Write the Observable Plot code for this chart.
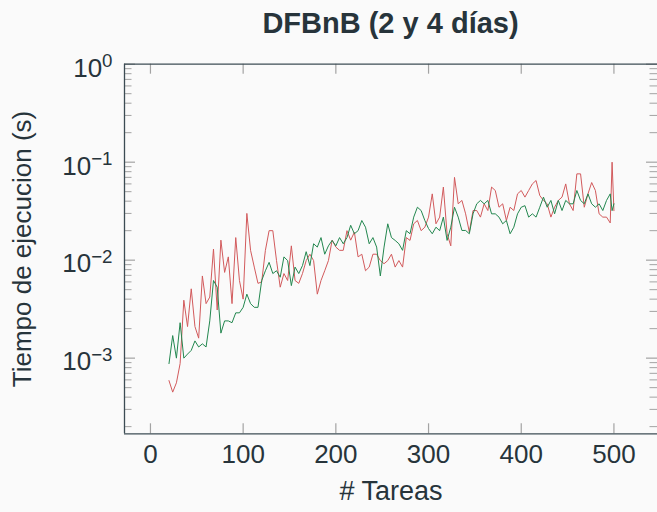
<!DOCTYPE html>
<html>
<head>
<meta charset="utf-8">
<script src="https://cdn.jsdelivr.net/npm/d3@7"></script>
<script src="https://cdn.jsdelivr.net/npm/@observablehq/plot@0.6"></script>
<style>
  html, body { margin: 0; padding: 0; background: #fafafa; }
  body { width: 657px; height: 512px; overflow: hidden; font-family: "Liberation Sans", "DejaVu Sans", sans-serif; color: #27343b; }
  #title { height: 50px; line-height: 46px; box-sizing: border-box; padding-left: 124px; text-align: center; font-size: 29px; font-weight: bold; }
  #chart svg { display: block; }
</style>
</head>
<body>
<div id="title">DFBnB (2 y 4 días)</div>
<div id="chart"></div>
<script>
// ---- data ----
const tareas = [20,24,28,32,36,40,44,48,52,56,60,64,68,72,76,80,84,88,92,96,100,104,108,112,116,120,124,128,132,136,140,144,148,152,156,160,164,168,172,176,180,184,188,192,196,200,204,208,212,216,220,224,228,232,236,240,244,248,252,256,260,264,268,272,276,280,284,288,292,296,300,304,308,312,316,320,324,328,332,336,340,344,348,352,356,360,364,368,372,376,380,384,388,392,396,400,404,408,412,416,420,424,428,432,436,440,444,448,452,456,460,464,468,472,476,480,484,488,492,496,498,500];

// red series
const serieRoja = [0.00059,0.00045,0.00056,0.00088,0.0039,0.0021,0.0051,0.0021,0.0016,0.0069,0.0036,0.0042,0.013,0.0031,0.016,0.0075,0.0108,0.0036,0.017,0.0062,0.0040,0.030,0.0126,0.0085,0.0058,0.006,0.0126,0.020,0.020,0.0099,0.0053,0.0073,0.0062,0.014,0.0062,0.0058,0.0073,0.0099,0.0115,0.0099,0.0045,0.0062,0.0078,0.0099,0.016,0.0136,0.0126,0.0126,0.020,0.016,0.0193,0.0108,0.0115,0.0078,0.0085,0.0115,0.0115,0.0099,0.0092,0.0099,0.0115,0.0085,0.0099,0.0085,0.017,0.0159,0.0235,0.0254,0.020,0.0217,0.0275,0.0475,0.0235,0.0275,0.0557,0.0186,0.014,0.070,0.0376,0.0407,0.0297,0.0194,0.0321,0.0321,0.0275,0.0376,0.0321,0.0557,0.0514,0.0347,0.0376,0.0254,0.0347,0.0321,0.0475,0.0514,0.044,0.0514,0.060,0.065,0.0457,0.0407,0.0376,0.0275,0.0347,0.0407,0.044,0.060,0.0376,0.0321,0.076,0.076,0.0347,0.0475,0.062,0.0514,0.0297,0.0275,0.0275,0.024,0.10,0.032];

// green series
const serieVerde = [0.00088,0.0017,0.001,0.0023,0.001,0.0011,0.0012,0.0015,0.0013,0.0014,0.0013,0.0024,0.0062,0.0053,0.0018,0.0024,0.0024,0.0023,0.0029,0.0029,0.0033,0.0045,0.0036,0.0033,0.0033,0.0062,0.0078,0.0095,0.0073,0.0078,0.0067,0.0108,0.0099,0.0055,0.0085,0.0073,0.0088,0.0122,0.0088,0.0147,0.0136,0.017,0.0115,0.014,0.0159,0.014,0.017,0.0147,0.017,0.0227,0.0186,0.020,0.0254,0.0217,0.0147,0.017,0.0136,0.0069,0.0136,0.0235,0.017,0.0159,0.0147,0.0126,0.020,0.0186,0.0275,0.0347,0.0321,0.0254,0.021,0.0186,0.0217,0.020,0.0275,0.0159,0.0217,0.0347,0.0275,0.0201,0.0201,0.0186,0.0297,0.0376,0.0407,0.0376,0.0407,0.0297,0.0297,0.0275,0.0235,0.0254,0.0186,0.0217,0.0297,0.0347,0.036,0.0275,0.0297,0.0275,0.0347,0.044,0.0347,0.0407,0.0297,0.0407,0.0321,0.0407,0.0376,0.0376,0.0514,0.0407,0.0376,0.0475,0.0376,0.0347,0.0376,0.0321,0.0407,0.0475,0.032,0.0376];

const xTicks = [0, 100, 200, 300, 400, 500];
const yMajorTicks = [1e-3, 1e-2, 1e-1, 1];
const xLabel = "# Tareas";
const yLabel = "Tiempo de ejecucion (s)";

// ---- layout ----
const W = 657, H = 462;
const ml = 124, mr = 0, mt = 13.7, mb = 78.7;
const pw = W - ml - mr, ph = H - mt - mb;
const xDomain = [-28, 547];
const yDomain = [1.69e-4, 1];
const red = "#d25a5c", green = "#23874f";
const tickColor = "#a3a3a3", frameColor = "#3c4c54";

const yMinorTicks = [];
for (const e of [-4, -3, -2, -1]) for (let k = 2; k <= 9; k++) {
  const v = k * Math.pow(10, e);
  if (v >= yDomain[0] && v < yDomain[1]) yMinorTicks.push(v);
}

const rows = tareas.map((t, i) => ({t, roja: serieRoja[i], verde: serieVerde[i]}));

const plot = Plot.plot({
  width: W, height: H,
  marginLeft: ml, marginRight: mr, marginTop: mt, marginBottom: mb,
  style: {background: "transparent", fontFamily: "'Liberation Sans', 'DejaVu Sans', sans-serif", fontSize: "26px", color: "#27343b", overflow: "visible"},
  x: {domain: xDomain, axis: null},
  y: {type: "log", domain: yDomain, axis: null},
  marks: [
    Plot.tickY(yMinorTicks, {y: d => d, insetRight: pw - 7.5, stroke: tickColor, strokeWidth: 1}),
    Plot.tickY(yMinorTicks, {y: d => d, insetLeft: pw - 7.5, stroke: tickColor, strokeWidth: 1}),
    Plot.tickY(yMajorTicks, {y: d => d, insetRight: pw - 11, stroke: tickColor, strokeWidth: 1.2}),
    Plot.tickY(yMajorTicks, {y: d => d, insetLeft: pw - 11, stroke: tickColor, strokeWidth: 1.2}),
    Plot.tickX(xTicks, {x: d => d, insetTop: ph - 10, stroke: tickColor, strokeWidth: 1.2}),
    Plot.tickX(xTicks, {x: d => d, insetBottom: ph - 10, stroke: tickColor, strokeWidth: 1.2}),
    Plot.line(rows, {x: "t", y: "roja", stroke: red, strokeWidth: 1}),
    Plot.line(rows, {x: "t", y: "verde", stroke: green, strokeWidth: 1}),
    Plot.ruleY([yDomain[1]], {stroke: frameColor, strokeWidth: 1.3}),
    Plot.ruleY([yDomain[0]], {stroke: frameColor, strokeWidth: 1.3}),
    Plot.ruleX([xDomain[0]], {stroke: frameColor, strokeWidth: 1.3}),
    Plot.text(xTicks, {x: d => d, frameAnchor: "bottom", dy: 29, text: d => String(d)}),
    Plot.text(yMajorTicks, {y: d => d, frameAnchor: "left", dx: -12, dy: 4, textAnchor: "end",
      text: d => "10^" + Math.round(Math.log10(d))}),
    Plot.text([xLabel], {frameAnchor: "bottom", dy: 66, text: d => d, fontSize: 27}),
    Plot.text([yLabel], {frameAnchor: "left", dx: -102, rotate: -90, textAnchor: "middle", text: d => d, fontSize: 26})
  ]
});

// superscript exponents on the y tick labels
plot.querySelectorAll("text").forEach(t => {
  const m = t.textContent.match(/^10\^(-?\d+)$/);
  if (!m) return;
  t.textContent = "";
  const ns = "http://www.w3.org/2000/svg";
  const base = document.createElementNS(ns, "tspan");
  base.textContent = "10";
  const sup = document.createElementNS(ns, "tspan");
  sup.setAttribute("dy", "-0.5em");
  sup.setAttribute("font-size", "0.72em");
  sup.textContent = m[1].replace("-", "\u2212");
  t.appendChild(base);
  t.appendChild(sup);
});

document.getElementById("chart").appendChild(plot);
</script>
</body>
</html>
